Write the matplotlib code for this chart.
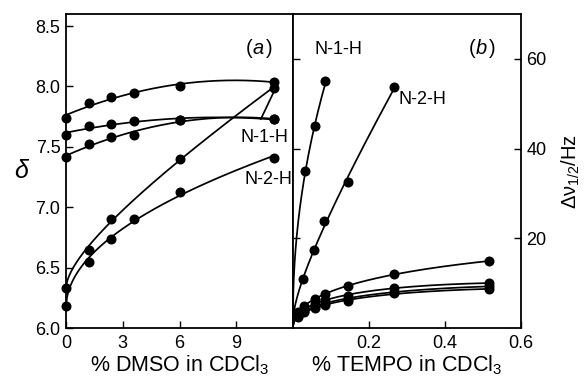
import matplotlib
matplotlib.use('Agg')
import matplotlib.pyplot as plt
import numpy as np

plt.rcParams['font.family'] = ['Liberation Sans', 'DejaVu Sans']
plt.rcParams['mathtext.fontset'] = 'custom'
plt.rcParams['mathtext.rm'] = 'Liberation Sans'
plt.rcParams['mathtext.it'] = 'Liberation Sans:italic'

# panel (a): shift vs % DMSO
dmso = [0, 1.2, 2.4, 3.6, 6.0, 11.0]
a_top = [7.74, 7.86, 7.91, 7.95, 8.00, 8.04]
a_mid = [7.60, 7.67, 7.69, 7.71, 7.72, 7.73]
a_low = [7.42, 7.52, 7.58, 7.60, 7.72, 7.73]
dmso_n1 = [0, 1.2, 2.4, 6.0, 11.0]
a_n1 = [6.33, 6.65, 6.90, 7.40, 7.99]
a_n2 = [6.18, 6.55, 6.74, 6.90, 7.13, 7.41]

# panel (b): line width vs % TEMPO
tempo = [0.013, 0.03, 0.057, 0.083, 0.145, 0.265, 0.515]
b_s3 = [3.6, 4.9, 6.4, 7.6, 9.4, 12.0, 14.9]
b_s4 = [3.0, 4.3, 5.4, 6.2, 7.2, 9.0, 10.0]
b_s5 = [2.6, 3.8, 4.9, 5.6, 6.4, 8.0, 9.3]
b_s6 = [2.4, 3.5, 4.5, 5.2, 6.0, 7.7, 8.7]
tempo_n1 = [0.032, 0.059, 0.085]
b_n1 = [35, 45, 55]
tempo_n2 = [0.027, 0.056, 0.082, 0.144, 0.267]
b_n2 = [10.9, 17.5, 23.8, 32.5, 53.8]


def sqrt_fit(x, y, x_end, with_lin=True):
    x = np.asarray(x, float)
    cols = [np.ones_like(x), np.sqrt(x)]
    if with_lin:
        cols.append(x)
    coef = np.linalg.lstsq(np.column_stack(cols), y, rcond=None)[0]
    xs = np.linspace(0, x_end, 200)
    ys = coef[0] + coef[1] * np.sqrt(xs)
    if with_lin:
        ys = ys + coef[2] * xs
    return xs, ys


def quad_fit(x, y, x_end):
    p = np.polyfit(x, y, 2)
    xs = np.linspace(0, x_end, 200)
    return xs, np.polyval(p, xs)


W, H = 587, 380
fig = plt.figure(figsize=(W / 100, H / 100), dpi=100)
bot, top = 1 - 328 / H, 1 - 14 / H
ax1 = fig.add_axes([66 / W, bot, (293 - 66) / W, top - bot])
ax2 = fig.add_axes([293 / W, bot, (521 - 293) / W, top - bot])

lw = 1.25
ms = 6.2
mk = dict(marker='o', ls='none', color='black', ms=ms, clip_on=False, zorder=3)

for y in (a_top, a_mid, a_low):
    ax1.plot(*quad_fit(dmso, y, 11.0), color='black', lw=lw)
    ax1.plot(dmso, y, **mk)
ax1.plot(*sqrt_fit(dmso_n1, a_n1, 11.0), color='black', lw=lw)
ax1.plot(dmso_n1, a_n1, **mk)
ax1.plot(*sqrt_fit(dmso, a_n2, 11.0), color='black', lw=lw)
ax1.plot(dmso, a_n2, **mk)

ax1.set_xlim(0, 12)
ax1.set_ylim(6.0, 8.6)
ax1.set_xticks([0, 3, 6, 9])
ax1.set_yticks([6.0, 6.5, 7.0, 7.5, 8.0, 8.5])
ax1.set_yticklabels(['6.0', '6.5', '7.0', '7.5', '8.0', '8.5'])
ax1.tick_params(direction='in', length=5, width=1, labelsize=13, pad=4)
ax1.tick_params(axis='x', pad=5)
ax1.set_xlabel('% DMSO in CDCl$_3$', fontsize=15.5, labelpad=1)
ax1.set_ylabel('δ', fontsize=18, style='italic', rotation=0, labelpad=10, va='center')
ax1.text(0.82, 0.89, '(', transform=ax1.transAxes, fontsize=14.5, ha='right', va='center')
ax1.text(0.82, 0.89, 'a', transform=ax1.transAxes, fontsize=14.5, style='italic', ha='left', va='center')
ax1.text(0.88, 0.89, ')', transform=ax1.transAxes, fontsize=14.5, ha='left', va='center')
ax1.text(10.5, 7.65, 'N-1-H', fontsize=13, ha='center', va='top')
ax1.text(10.7, 7.30, 'N-2-H', fontsize=13, ha='center', va='top')
ax1.plot([10.3, 11.0], [7.73, 7.96], color='black', lw=lw)

for y in (b_s3, b_s4, b_s5, b_s6):
    ax2.plot(*sqrt_fit(tempo, y, 0.515), color='black', lw=lw)
    ax2.plot(tempo, y, **mk)
ax2.plot(*sqrt_fit(tempo_n1, b_n1, 0.085, with_lin=False), color='black', lw=lw)
ax2.plot(tempo_n1, b_n1, **mk)
ax2.plot(*sqrt_fit(tempo_n2, b_n2, 0.267), color='black', lw=lw)
ax2.plot(tempo_n2, b_n2, **mk)

ax2.set_xlim(0, 0.6)
ax2.set_ylim(0, 70)
ax2.set_xticks([0.2, 0.4, 0.6])
ax2.set_xticklabels(['0.2', '0.4', '0.6'])
ax2.set_yticks([20, 40, 60])
ax2.yaxis.tick_right()
ax2.yaxis.set_label_position('right')
ax2.tick_params(axis='y', left=True, right=True, labelleft=False, labelright=True)
ax2.tick_params(direction='in', length=5, width=1, labelsize=13, pad=4)
ax2.tick_params(axis='x', pad=5)
ax2.set_xlabel('% TEMPO in CDCl$_3$', fontsize=15.5, labelpad=1)
ax2.set_ylabel('Δν$_{1/2}$/Hz', fontsize=14.5, labelpad=9)
ax2.text(0.80, 0.89, '(', transform=ax2.transAxes, fontsize=14.5, ha='right', va='center')
ax2.text(0.80, 0.89, 'b', transform=ax2.transAxes, fontsize=14.5, style='italic', ha='left', va='center')
ax2.text(0.86, 0.89, ')', transform=ax2.transAxes, fontsize=14.5, ha='left', va='center')
ax2.text(0.12, 62, 'N-1-H', fontsize=13, ha='center', va='center')
ax2.text(0.34, 51, 'N-2-H', fontsize=13, ha='center', va='center')

for ax in (ax1, ax2):
    for sp in ax.spines.values():
        sp.set_linewidth(1.3)

fig.savefig('out.png', dpi=100)
